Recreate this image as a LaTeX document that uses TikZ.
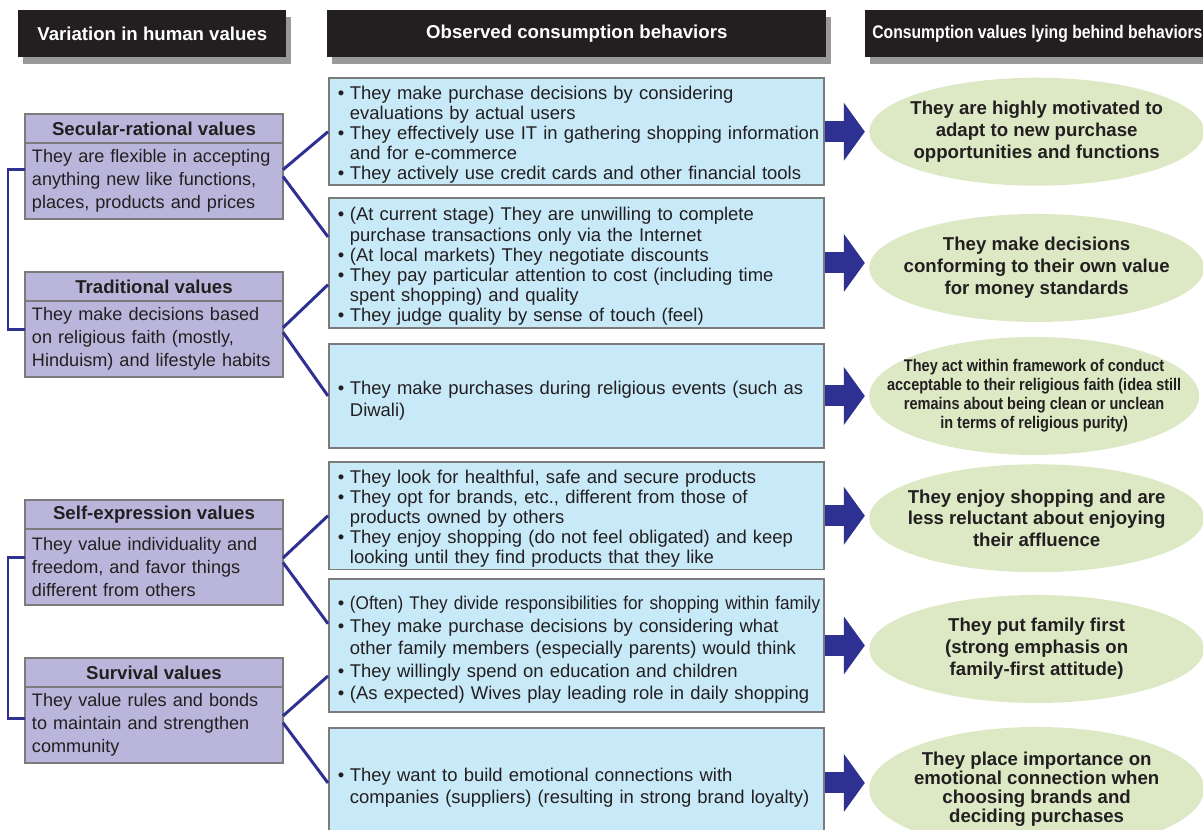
\documentclass[tikz,border=0pt]{standalone}
\usepackage{fontspec}
\setmainfont{Liberation Sans}
\newfontfamily\narrowfont[FakeStretch=0.86]{Liberation Sans}
\usetikzlibrary{positioning,shapes.geometric,arrows.meta,shadows}
\definecolor{ink}{HTML}{231F20}
\definecolor{navy}{HTML}{2E3192}
\definecolor{lavender}{HTML}{BAB6DB}
\definecolor{skyblue}{HTML}{C8E9F8}
\definecolor{sage}{HTML}{DDE9C5}
\definecolor{edge}{HTML}{7B7B7B}
\newcommand{\bul}{\par\noindent\hangindent=0.39cm\hangafter=1\hskip0.15cm\makebox[0.24cm][l]{\textbullet}}
\tikzset{
  hdr/.style={fill=ink, text=white, font=\bfseries\fontsize{10.6}{12}\selectfont, minimum height=0.94cm,
    inner ysep=0pt, anchor=north west,
    drop shadow={shadow xshift=0.1cm, shadow yshift=-0.14cm, fill=black, opacity=0.4}},
  valtitle/.style={draw=edge, line width=1.1pt, fill=lavender, text=ink, font=\bfseries\fontsize{10.6}{12}\selectfont,
    minimum width=5.16cm, minimum height=0.58cm, inner sep=0pt, outer sep=0pt},
  valbody/.style={draw=edge, line width=1.1pt, fill=lavender, text=ink, text width=4.88cm, inner xsep=0.14cm,
    inner ysep=0pt, minimum height=1.52cm, align=left, outer sep=0pt, font=\fontsize{10.3}{13}\selectfont},
  behav/.style={draw=edge, line width=1.1pt, fill=skyblue, text=ink, text width=9.84cm, inner xsep=0.03cm,
    inner ysep=1pt, align=left, anchor=north west, font=\fontsize{10.5}{11.4}\selectfont},
  cval/.style={ellipse, fill=sage, text=ink, font=\bfseries\fontsize{10.6}{12.4}\selectfont, minimum width=6.7cm,
    minimum height=2.16cm, inner xsep=-2cm, inner ysep=-0.6cm, align=center},
  link/.style={draw=navy, line width=1.7pt},
  fat/.style={navy, line width=0.42cm, -{Triangle[length=0.42cm,width=1.14cm]}, shorten >=0.08cm}
}
\begin{document}
\begin{tikzpicture}[x=0.02cm, y=-0.02cm]
  \useasboundingbox (0,0) rectangle (1203,829);

  % column headers
  \node[hdr, minimum width=5.36cm] (h-var) at (18,10) {Variation in human values};
  \node[hdr, minimum width=9.98cm] (h-obs) at (327,10) {Observed consumption behaviors};
  \node[hdr, inner xsep=0.14cm, font=\narrowfont\bfseries\fontsize{10.4}{12}\selectfont] (h-cons) at (865,10) {Consumption values lying behind behaviors};

  % human values
  \node[valtitle, anchor=north west] (sec-t) at (25,114) {Secular-rational values};
  \node[valbody, below=0pt of sec-t] (sec) {They are flexible in accepting\\anything new like functions,\\places, products and prices};
  \node[valtitle, anchor=north west] (trad-t) at (25,272) {Traditional values};
  \node[valbody, below=0pt of trad-t] (trad) {They make decisions based\\on religious faith (mostly,\\Hinduism) and lifestyle habits};
  \node[valtitle, anchor=north west] (self-t) at (25,500) {Self-expression values};
  \node[valbody, below=0pt of self-t] (self) {They value individuality and\\freedom, and favor things\\different from others};
  \node[valtitle, anchor=north west] (surv-t) at (25,658) {Survival values};
  \node[valbody, below=0pt of surv-t] (surv) {They value rules and bonds\\to maintain and strengthen\\community};

  % observed behaviors
  \node[behav, minimum height=2.1cm] (b1) at (328,77) {\bul They make purchase decisions by considering\newline evaluations by actual users \bul They effectively use IT in gathering shopping information\newline and for e-commerce \bul They actively use credit cards and other financial tools\par};
  \node[behav, minimum height=2.6cm] (b2) at (328,197) {\bul (At current stage) They are unwilling to complete\newline purchase transactions only via the Internet \bul (At local markets) They negotiate discounts \bul They pay particular attention to cost (including time\newline spent shopping) and quality \bul They judge quality by sense of touch (feel)\par};
  \node[behav, minimum height=2.08cm, font=\fontsize{10.5}{13}\selectfont] (b3) at (328,343) {\bul They make purchases during religious events (such as\newline Diwali)\par};
  \node[behav, minimum height=2.1cm] (b4) at (328,461) {\bul They look for healthful, safe and secure products \bul They opt for brands, etc., different from those of\newline products owned by others \bul They enjoy shopping (do not feel obligated) and keep\newline looking until they find products that they like\par};
  \node[behav, minimum height=2.66cm, font=\fontsize{10.5}{12.8}\selectfont] (b5) at (328,578) {\bul {\addfontfeature{FakeStretch=0.93}(Often) They divide responsibilities for shopping within family} \bul They make purchase decisions by considering what\newline other family members (especially parents) would think \bul They willingly spend on education and children \bul (As expected) Wives play leading role in daily shopping\par};
  \node[behav, minimum height=2.2cm, font=\fontsize{10.5}{13}\selectfont] (b6) at (328,727) {\bul They want to build emotional connections with\newline companies (suppliers) (resulting in strong brand loyalty)\par};

  % consumption values
  \node[cval, right=0.88cm of b1] (e1) {They are highly motivated to\\adapt to new purchase\\opportunities and functions};
  \node[cval, right=0.88cm of b2, yshift=-0.1cm] (e2) {They make decisions\\conforming to their own value\\for money standards};
  \node[cval, right=0.88cm of b3, minimum width=6.6cm, minimum height=2.36cm, font=\narrowfont\bfseries\fontsize{9.6}{10.8}\selectfont] (e3) {They act within framework of conduct\\acceptable to their religious faith (idea still\\remains about being clean or unclean\\in terms of religious purity)};
  \node[cval, right=0.88cm of b4, yshift=-0.05cm] (e4) {They enjoy shopping and are\\less reluctant about enjoying\\their affluence};
  \node[cval, right=0.88cm of b5, yshift=-0.07cm] (e5) {They put family first\\(strong emphasis on\\family-first attitude)};
  \node[cval, right=0.88cm of b6, minimum height=2.48cm, yshift=-0.12cm, font=\bfseries\fontsize{10.6}{10.8}\selectfont] (e6) {They place importance on\\emotional connection when\\choosing brands and\\deciding purchases};

  % brackets and links
  \draw[link] (sec.175) -- ++(-0.34cm,0) |- (trad.176);
  \draw[link] (self.176) -- ++(-0.34cm,0) |- (surv.177);
  \draw[link] (sec.5) -- (b1.west);
  \draw[link] (sec.2) -- (b2.174);
  \draw[link] (trad.5) -- (b2.185);
  \draw[link] (trad.3) -- (b3.west);
  \draw[link] (self.4) -- (b4.west);
  \draw[link] (self.2) -- (b5.175);
  \draw[link] (surv.4) -- (b5.187);
  \draw[link] (surv.1) -- (b6.west);

  % block arrows
  \foreach \i in {1,...,6}
    \draw[fat] (b\i.east) -- (b\i.east -| e\i.west);
\end{tikzpicture}
\end{document}
